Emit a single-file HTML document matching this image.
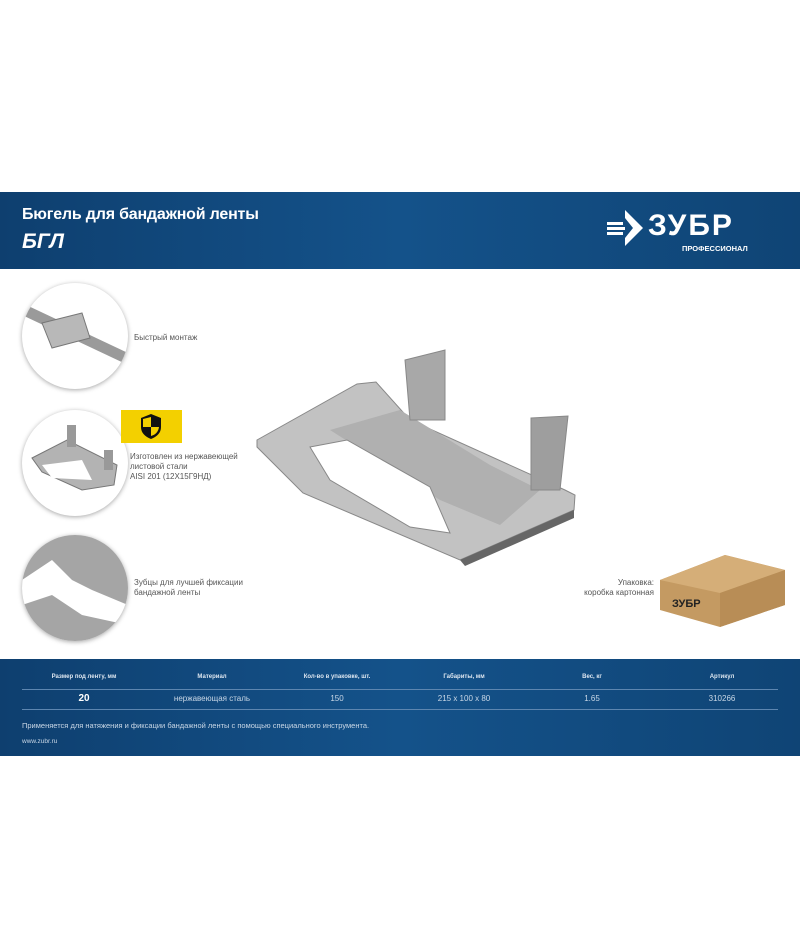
<!DOCTYPE html>
<html><head><meta charset="utf-8"><style>
body{margin:0;width:800px;height:950px;background:#fff;position:relative;overflow:hidden;font-family:"Liberation Sans",sans-serif}
.band{position:absolute;left:0;width:800px;background:linear-gradient(90deg,#0e3f6f 0%,#14528a 50%,#0f4475 100%)}
.t{position:absolute;white-space:nowrap}
.g{color:#555;font-size:8px;line-height:10px}
.w{color:#c9d7e6}
.c{position:absolute;width:160px;margin-left:-80px;text-align:center;white-space:nowrap}
.circ{position:absolute;left:22px;width:106px;height:106px;border-radius:50%;background:#fff;box-shadow:0 1px 5px rgba(0,0,0,.35);overflow:hidden}
</style></head><body>
<div class="band" style="top:192px;height:77px"></div>
<div class="t" style="left:22px;top:206px;color:#fff;font-weight:bold;font-size:16px;letter-spacing:-0.2px">Бюгель для бандажной ленты</div>
<div class="t" style="left:22px;top:230px;color:#fff;font-weight:bold;font-style:italic;font-size:21px">БГЛ</div>
<svg style="position:absolute;left:605px;top:208px" width="40" height="40"><polygon points="20,2 38,20 20,38 20,30 28,20 20,10" fill="#fff"/><rect x="2" y="14" width="16" height="3" fill="#fff"/><rect x="2" y="19" width="18" height="3" fill="#fff"/><rect x="2" y="24" width="16" height="3" fill="#fff"/></svg>
<div class="t" style="left:648px;top:210px;color:#fff;font-weight:bold;font-size:30px;letter-spacing:2px;line-height:32px">ЗУБР</div>
<div class="t" style="left:682px;top:244px;color:#fff;font-weight:bold;font-size:7.5px">ПРОФЕССИОНАЛ</div>

<div class="circ" style="top:283px"><svg width="106" height="106"><polygon points="0,20 106,70 106,82 0,32" fill="#9a9a9a"/><polygon points="20,40 60,30 68,55 30,65" fill="#b8b8b8" stroke="#777"/></svg></div>
<div class="circ" style="top:410px"><svg width="106" height="106"><polygon points="10,48 45,30 95,55 92,75 60,80 20,62" fill="#b3b3b3" stroke="#777"/><rect x="45" y="15" width="9" height="22" fill="#999"/><rect x="82" y="40" width="9" height="20" fill="#999"/><polygon points="20,55 60,50 70,70 30,68" fill="#fff"/></svg></div>
<div class="circ" style="top:535px"><svg width="106" height="106"><rect width="106" height="106" fill="#a5a5a5"/><polygon points="0,45 30,25 50,45 70,55 106,70 106,90 60,80 30,60 0,70" fill="#fff"/></svg></div>

<div class="t g" style="left:134px;top:333px">Быстрый монтаж</div>
<div style="position:absolute;left:121px;top:410px;width:61px;height:33px;background:#f3d000"></div>
<svg style="position:absolute;left:140px;top:413px" width="22" height="27"><path d="M11,1 L21,5 L21,14 Q21,22 11,26 Q1,22 1,14 L1,5 Z" fill="#111"/><path d="M11,4 L11,14 L3,14 L3,6 Z M11,14 L19,14 Q18,21 11,23 Z" fill="#f3d000"/></svg>
<div class="t g" style="left:130px;top:452px">Изготовлен из нержавеющей<br>листовой стали<br>AISI 201 (12Х15Г9НД)</div>
<div class="t g" style="left:134px;top:578px">Зубцы для лучшей фиксации<br>бандажной ленты</div>

<svg style="position:absolute;left:250px;top:340px" width="340" height="230">
<polygon points="7,100 107,44 126,42 160,80 315,150 325,155 324,170 210,220 53,153 7,107" fill="#c2c2c2" stroke="#888"/>
<polygon points="80,90 150,70 240,125 290,150 250,185 190,160" fill="#b0b0b0"/>
<polygon points="155,20 195,10 195,80 160,80" fill="#a8a8a8" stroke="#888"/>
<polygon points="281,78 318,76 310,150 281,150" fill="#9e9e9e" stroke="#888"/>
<polygon points="60,107 97,100 180,147 200,193 160,187 80,140" fill="#fff" stroke="#888"/>
<polygon points="210,220 324,170 324,178 215,226" fill="#666"/>
</svg>
<div class="t g" style="left:580px;top:578px;text-align:right;width:74px;font-size:8px">Упаковка:<br>коробка картонная</div>
<svg style="position:absolute;left:660px;top:555px" width="130" height="75"><polygon points="0,25 65,0 125,15 125,50 60,72 0,55" fill="#c49a62"/><polygon points="0,25 65,0 125,15 60,38" fill="#d5ae78"/><polygon points="60,38 125,15 125,50 60,72" fill="#b88d56"/><text x="12" y="52" font-size="11" font-weight="bold" font-family="Liberation Sans" fill="#222">ЗУБР</text></svg>

<div class="band" style="top:659px;height:97px"></div>
<div style="position:absolute;left:22px;top:689px;width:756px;height:1px;background:#5d86b0"></div>
<div style="position:absolute;left:22px;top:709px;width:756px;height:1px;background:#5d86b0"></div>
<div style="position:absolute;left:0;top:674px;width:800px;font-size:6px;font-weight:bold;color:#dde6f0">
<span class="c" style="left:84px">Размер под ленту, мм</span><span class="c" style="left:212px">Материал</span><span class="c" style="left:337px">Кол-во в упаковке, шт.</span><span class="c" style="left:464px">Габариты, мм</span><span class="c" style="left:592px">Вес, кг</span><span class="c" style="left:722px">Артикул</span></div>
<div class="w" style="position:absolute;left:0;top:694px;width:800px;font-size:8px">
<span class="c" style="left:84px;font-weight:bold;color:#fff;font-size:10px;top:-1px">20</span><span class="c" style="left:212px">нержавеющая сталь</span><span class="c" style="left:337px">150</span><span class="c" style="left:464px">215 x 100 x 80</span><span class="c" style="left:592px">1.65</span><span class="c" style="left:722px">310266</span></div>
<div class="t w" style="left:22px;top:721px;font-size:7.5px">Применяется для натяжения и фиксации бандажной ленты с помощью специального инструмента.</div>
<div class="t w" style="left:22px;top:738px;font-size:6.5px">www.zubr.ru</div>
</body></html>
